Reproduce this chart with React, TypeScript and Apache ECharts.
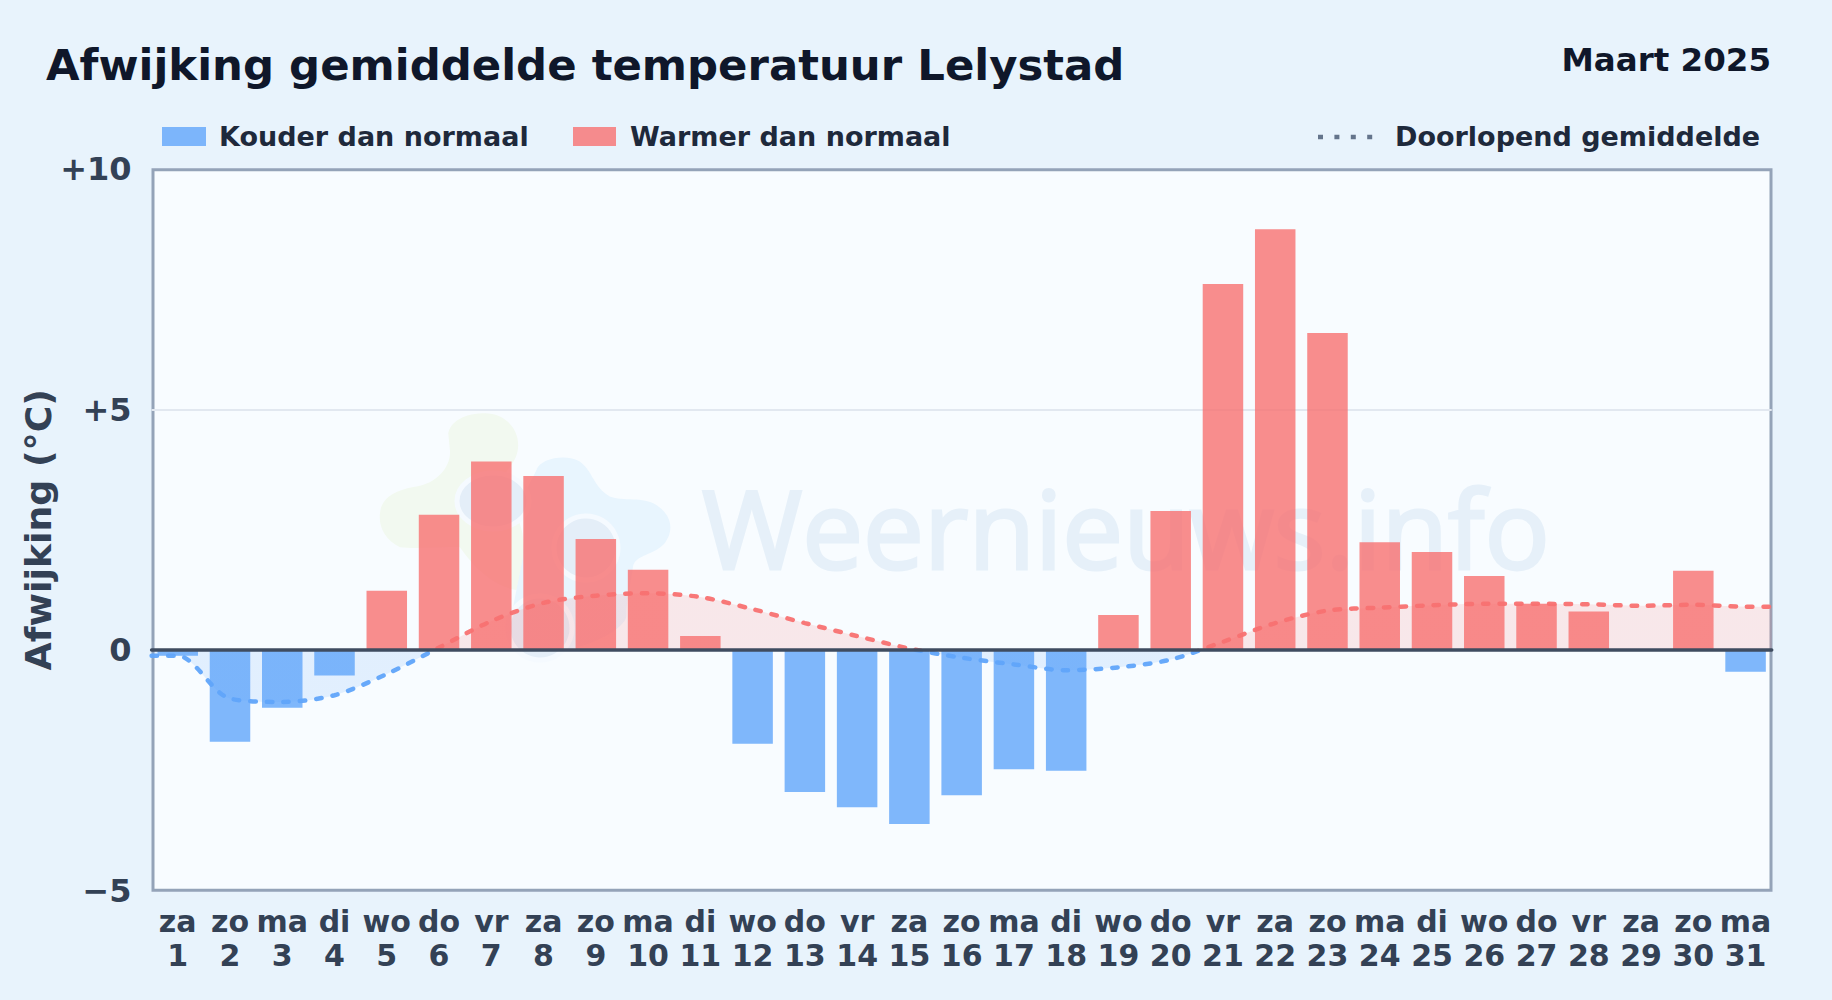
import React, { useEffect, useRef } from "react";
import * as echarts from "echarts";

const weekdays = ["za","zo","ma","di","wo","do","vr","za","zo","ma","di","wo","do","vr","za","zo","ma","di","wo","do","vr","za","zo","ma","di","wo","do","vr","za","zo","ma"];
const days = [1,2,3,4,5,6,7,8,9,10,11,12,13,14,15,16,17,18,19,20,21,22,23,24,25,26,27,28,29,30,31];
const deviations = [-0.12,-1.91,-1.2,-0.53,1.23,2.81,3.92,3.62,2.31,1.67,0.29,-1.95,-2.95,-3.27,-3.62,-3.02,-2.48,-2.51,0.73,2.89,7.61,8.75,6.59,2.24,2.04,1.54,0.96,0.8,0,1.65,-0.45];
const runningMean = [-0.12,-1.01,-1.08,-0.94,-0.5,0.05,0.6,0.98,1.13,1.18,1.1,0.85,0.56,0.29,0.03,-0.16,-0.3,-0.42,-0.36,-0.2,0.17,0.56,0.82,0.88,0.93,0.96,0.96,0.95,0.92,0.94,0.9];
const yTickLabels: Record<string, string> = { "-5": "−5", "0": "0", "5": "+5", "10": "+10" };

const FONT = '"DejaVu Sans"';
const BLUE = "#60a5fa";
const RED = "#f87171";

const green =
  "M265,130 C275,85 330,70 375,70 C430,70 475,110 475,165 C475,215 440,235 425,270 C440,320 490,400 490,450 L500,600 C440,610 360,560 300,472 C240,470 170,478 120,472 C75,450 55,410 60,370 C65,320 110,300 170,290 C230,280 275,230 270,180 Z";
const blueBlob =
  "M530,240 C540,205 620,190 660,215 C700,245 700,290 750,320 C790,335 850,320 890,345 C935,375 945,420 915,460 C885,495 825,495 820,530 C815,570 800,620 800,680 C790,730 640,790 540,795 C480,795 450,760 450,700 L490,500 L500,300 Z";
let registered = false;
function registerLogo() {
  if (registered) return;
  registered = true;
  echarts.graphic.registerShape("logoGreen", echarts.graphic.extendPath(green, {}));
  echarts.graphic.registerShape("logoBlue", echarts.graphic.extendPath(blueBlob, {}));
}

const txt = (text: string, x: number, y: number, size: number, fill: string, align = "left") => ({
  type: "text",
  x,
  y,
  style: { text, fill, font: `bold ${size}px ${FONT}`, textAlign: align, textVerticalAlign: "middle" },
});

const signGradient = () => ({
  type: "linear",
  global: true,
  x: 0,
  y: 169,
  x2: 0,
  y2: 890.5,
  colorStops: [
    { offset: 0, color: RED },
    { offset: 2 / 3, color: RED },
    { offset: 2 / 3, color: BLUE },
    { offset: 1, color: BLUE },
  ],
});

export default function App() {
  const ref = useRef<HTMLDivElement>(null);
  useEffect(() => {
    registerLogo();
    const chart = echarts.init(ref.current!, undefined, { renderer: "svg" });
    const logoT = { x: 360, y: 390, scaleX: 1 / 3, scaleY: 1 / 3 };
    chart.setOption({
      animation: false,
      backgroundColor: "#e8f3fc",
      grid: {
        left: 151.6,
        right: 60.3,
        top: 169,
        bottom: 109.5,
        show: false,
        containLabel: false,
      },
      xAxis: [
        {
          type: "category",
          data: weekdays.map((w, i) => `${w}\n${days[i]}`),
          position: "bottom",
          axisLine: { show: false, onZero: false },
          axisTick: { show: false },
          axisLabel: {
            interval: 0,
            margin: 14,
            color: "#334155",
            fontFamily: FONT,
            fontWeight: "bold",
            fontSize: 30,
            lineHeight: 34,
          },
        },
        {
          type: "value",
          min: 0,
          max: 31,
          position: "bottom",
          z: 5,
          axisLine: { show: true, onZero: true, lineStyle: { color: "#3f4c60", width: 3.5 } },
          axisTick: { show: false },
          axisLabel: { show: false },
          splitLine: { show: false },
        },
      ],
      yAxis: {
        type: "value",
        min: -5,
        max: 10,
        interval: 5,
        name: "Afwijking (°C)",
        nameLocation: "middle",
        nameRotate: 90,
        nameGap: 95,
        nameMoveOverlap: false,
        nameTextStyle: { color: "#334155", fontFamily: FONT, fontWeight: "bold", fontSize: 36.3 },
        axisLine: { show: false },
        axisTick: { show: false },
        axisLabel: {
          margin: 20,
          color: "#334155",
          fontFamily: FONT,
          fontWeight: "bold",
          fontSize: 32,
          formatter: (v: number) => yTickLabels[String(v)] ?? String(v),
        },
        splitLine: { show: true, showMinLine: false, showMaxLine: false, lineStyle: { color: "#e2e8f0", width: 2 } },
      },
      series: [
        {
          name: "Kouder dan normaal",
          type: "bar",
          xAxisIndex: 0,
          barWidth: 40.5,
          barGap: "-100%",
          itemStyle: { color: BLUE, opacity: 0.8 },
          data: deviations.map((v) => (v < 0 ? v : null)),
        },
        {
          name: "Warmer dan normaal",
          type: "bar",
          xAxisIndex: 0,
          barWidth: 40.5,
          barGap: "-100%",
          itemStyle: { color: RED, opacity: 0.8 },
          data: deviations.map((v) => (v > 0 ? v : null)),
        },
        {
          name: "Doorlopend gemiddelde",
          type: "line",
          xAxisIndex: 1,
          smooth: 0.3,
          showSymbol: false,
          symbol: "none",
          z: 3,
          lineStyle: { color: signGradient(), width: 4.5, type: [5.5, 11], cap: "round", opacity: 0.95 },
          areaStyle: { color: signGradient(), opacity: 0.15 },
          data: [
            [0, runningMean[0]],
            ...runningMean.map((v, i) => [i + 0.5, v]),
            [31, runningMean[runningMean.length - 1]],
          ],
        },
      ],
      graphic: {
        elements: [
          { type: "rect", shape: { x: 153, y: 169.7, width: 1618, height: 720.6 }, style: { fill: "#f8fcff", stroke: "#94a3b8", lineWidth: 3 }, silent: true },
          { type: "logoGreen", ...logoT, style: { fill: "#f2f9f0" }, silent: true },
          { type: "logoBlue", ...logoT, style: { fill: "#e8f5fe" }, silent: true },
          { type: "ellipse", shape: { cx: 493, cy: 501, rx: 36, ry: 28 }, style: { fill: "#e4eef8", stroke: "#f5faff", lineWidth: 5 }, silent: true },
          { type: "circle", shape: { cx: 586, cy: 548, r: 32 }, style: { fill: "#e4eef8", stroke: "#f5faff", lineWidth: 5 }, silent: true },
          { type: "circle", shape: { cx: 540, cy: 628, r: 32 }, style: { fill: "#e4eef8", stroke: "#f5faff", lineWidth: 5 }, silent: true },
          {
            type: "text",
            x: 702,
            y: 527,
            style: { text: "Weernieuws.info", fill: "#e6f0f9", stroke: "#e6f0f9", lineWidth: 3, font: `108.5px "Open Sans"`, textAlign: "left", textVerticalAlign: "middle" },
            silent: true,
          },
          txt("Afwijking gemiddelde temperatuur Lelystad", 46, 64.5, 43.4, "#0f172a"),
          txt("Maart 2025", 1771, 60, 32.5, "#0f172a", "right"),
          { type: "rect", shape: { x: 162, y: 127, width: 44, height: 19 }, style: { fill: BLUE, opacity: 0.8 } },
          txt("Kouder dan normaal", 219, 136, 27, "#1e293b"),
          { type: "rect", shape: { x: 573, y: 127, width: 43, height: 19 }, style: { fill: RED, opacity: 0.8 } },
          txt("Warmer dan normaal", 630, 136, 27, "#1e293b"),
          { type: "line", shape: { x1: 1318, y1: 137, x2: 1374, y2: 137 }, style: { stroke: "#64748b", lineWidth: 4.5, lineDash: [5, 11.4] } },
          txt("Doorlopend gemiddelde", 1395, 136, 27, "#1e293b"),
        ],
      },
    });
    return () => chart.dispose();
  }, []);
  return <div ref={ref} style={{ position: "fixed", left: 0, top: 0, width: 1832, height: 1000 }} />;
}
